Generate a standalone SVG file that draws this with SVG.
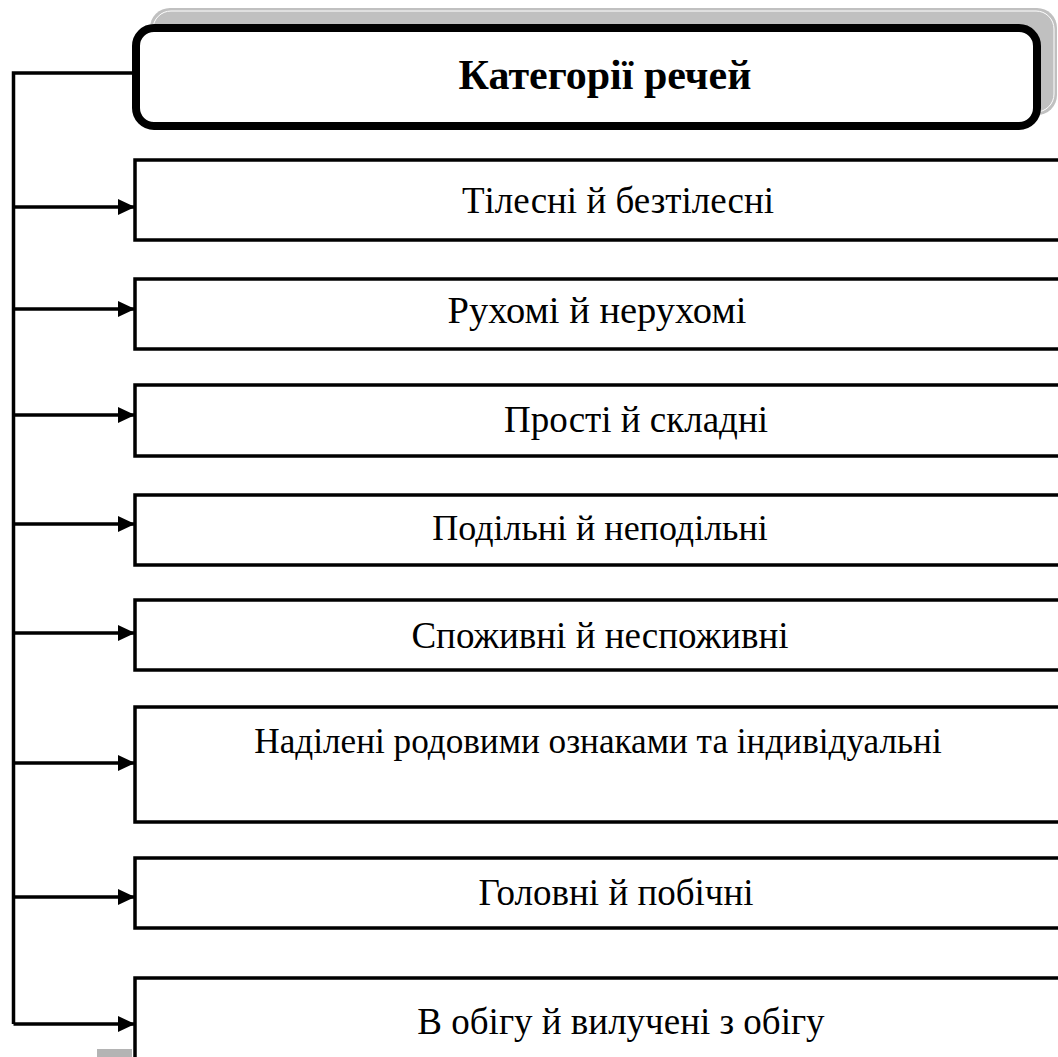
<svg xmlns="http://www.w3.org/2000/svg" width="1058" height="1057" viewBox="0 0 1058 1057">
<style>
.box{fill:#fff;stroke:#000;stroke-width:3.5}
.t{font-family:"Liberation Serif","Times New Roman",serif;font-size:37px;fill:#000;text-anchor:middle}
.title{font-family:"Liberation Serif","Times New Roman",serif;font-size:42px;font-weight:bold;fill:#000;text-anchor:middle}
.ln{stroke:#000;stroke-width:3.5;fill:none}
</style>
<defs>
<marker id="arr" markerUnits="userSpaceOnUse" markerWidth="18" markerHeight="17" refX="17" refY="8" orient="auto">
<path d="M0,0 L17,8 L0,16 Z" fill="#000"/>
</marker>
</defs>
<rect width="1058" height="1057" fill="#fff"/>
<g id="connectors">
<polyline class="ln" points="132,73 13.5,73 13.5,1024"/>
<line class="ln" x1="13.5" y1="207" x2="135" y2="207" marker-end="url(#arr)"/>
<line class="ln" x1="13.5" y1="309" x2="135" y2="309" marker-end="url(#arr)"/>
<line class="ln" x1="13.5" y1="415" x2="135" y2="415" marker-end="url(#arr)"/>
<line class="ln" x1="13.5" y1="524" x2="135" y2="524" marker-end="url(#arr)"/>
<line class="ln" x1="13.5" y1="633" x2="135" y2="633" marker-end="url(#arr)"/>
<line class="ln" x1="13.5" y1="763" x2="135" y2="763" marker-end="url(#arr)"/>
<line class="ln" x1="13.5" y1="897" x2="135" y2="897" marker-end="url(#arr)"/>
<line class="ln" x1="13.5" y1="1024" x2="135" y2="1024" marker-end="url(#arr)"/>
</g>
<g id="title">
<rect x="150" y="8" width="907" height="107" rx="20" fill="#c0c0c0"/>
<rect x="153" y="11" width="901" height="101" rx="18" fill="none" stroke="#fff" stroke-width="1"/>
<rect x="136" y="28" width="901" height="98" rx="18" fill="#fff" stroke="#000" stroke-width="8"/>
<text class="title" x="605" y="89">Категорії речей</text>
</g>
<g id="n1"><rect class="box" x="135" y="160" width="930" height="80"/><text class="t" x="618" y="213">Тілесні й безтілесні</text></g>
<g id="n2"><rect class="box" x="135" y="279" width="930" height="70"/><text class="t" x="597" y="323" style="font-size:38.5px">Рухомі й нерухомі</text></g>
<g id="n3"><rect class="box" x="135" y="385" width="930" height="71"/><text class="t" x="636" y="432">Прості й складні</text></g>
<g id="n4"><rect class="box" x="135" y="495" width="930" height="70"/><text class="t" x="600" y="540" style="font-size:36px">Подільні й неподільні</text></g>
<g id="n5"><rect class="box" x="135" y="600" width="930" height="70"/><text class="t" x="600" y="648">Споживні й неспоживні</text></g>
<g id="n6"><rect class="box" x="135" y="707" width="930" height="115"/><text class="t" x="598" y="753" style="font-size:35.2px">Наділені родовими ознаками та індивідуальні</text></g>
<g id="n7"><rect class="box" x="135" y="858" width="930" height="70"/><text class="t" x="616" y="905">Головні й побічні</text></g>
<g id="n8"><rect class="box" x="135" y="978" width="930" height="100"/><text class="t" x="621" y="1034">В обігу й вилучені з обігу</text></g>
<rect x="97" y="1049" width="35" height="8" fill="#b4b4b4"/>
</svg>
